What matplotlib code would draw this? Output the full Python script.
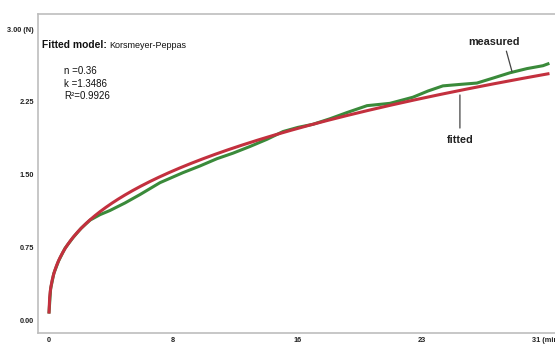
import numpy as np
import matplotlib.pyplot as plt

# Korsmeyer-Peppas fit parameters
n_exp = 0.36
k_const = 1.3486
r_sq = 0.9926
t_unit = 5.37  # time scale of the fit (min)

# measured force (N) against time (min)
t_meas = [0.00227, 0.1, 0.3, 0.6, 1.0, 1.5, 2.0, 2.56, 3.18, 3.80, 4.74, 5.67,
          6.92, 8.35, 9.41, 10.47, 11.47, 12.53, 13.59, 14.59, 15.52, 16.46,
          17.52, 18.58, 19.83, 21.26, 22.69, 23.63, 24.56, 25.62, 26.68, 27.74,
          28.74, 29.80, 30.80, 31.11]
f_meas = [0.082, 0.32, 0.48, 0.61, 0.74, 0.85, 0.945, 1.03, 1.086, 1.129, 1.207,
          1.293, 1.416, 1.519, 1.588, 1.663, 1.720, 1.789, 1.863, 1.943, 1.986,
          2.018, 2.075, 2.139, 2.210, 2.234, 2.297, 2.361, 2.414, 2.429, 2.443,
          2.497, 2.549, 2.592, 2.622, 2.641]

x_ticks = [0, 7.75, 15.5, 23.25, 31]
x_labels = ['0', '8', '16', '23', '31 (min)']
y_ticks = [0, 0.75, 1.5, 2.25, 3.0]
y_labels = ['0.00', '0.75', '1.50', '2.25', '3.00 (N)']

t_fit = np.linspace(t_meas[0], t_meas[-1], 800)
f_fit = k_const * (t_fit / t_unit) ** n_exp

fig = plt.figure(figsize=(5.55, 3.47), dpi=100)
ax = fig.add_axes([38 / 555, 14 / 347, 522 / 555, 319 / 347])

ax.plot(t_meas, f_meas, color='#3a8a3a', linewidth=2.2, zorder=2)
ax.plot(t_fit, f_fit, color='#c3303e', linewidth=2.2, zorder=3)

ax.set_xlim(-0.686, 31.86)
ax.set_ylim(-0.134, 3.155)

ax.set_xticks(x_ticks)
ax.set_xticklabels(x_labels)
ax.set_yticks(y_ticks)
ax.set_yticklabels(y_labels)
ax.tick_params(length=0, pad=3, labelsize=5.3, labelcolor='#222222')
for lab in ax.get_xticklabels() + ax.get_yticklabels():
    lab.set_family(['Liberation Sans Narrow', 'Liberation Sans', 'DejaVu Sans'])
    lab.set_fontweight('bold')

ax.spines['right'].set_visible(False)
for s in ['left', 'top', 'bottom']:
    ax.spines[s].set_color('#bdbdbd')
    ax.spines[s].set_linewidth(1.2)

# model box text
t1 = ax.text(0.008, 0.903, 'Fitted model:', transform=ax.transAxes,
             fontsize=7.4, fontweight='bold', family='Liberation Sans',
             va='center', ha='left', color='#111111')
ax.annotate('Korsmeyer-Peppas', xy=(1, 0), xycoords=t1, xytext=(1.5, 0),
            textcoords='offset points', fontsize=6.5,
            family=['Liberation Sans Narrow', 'Liberation Sans'],
            va='bottom', ha='left', color='#111111')

ax.text(0.0498, 0.821, 'n =%.2f' % n_exp, transform=ax.transAxes, fontsize=7,
        family='Liberation Sans', va='center', color='#111111')
ax.text(0.0498, 0.781, 'k =%.4f' % k_const, transform=ax.transAxes, fontsize=7,
        family='Liberation Sans', va='center', color='#111111')
ax.text(0.0498, 0.743, 'R²=%.4f' % r_sq, transform=ax.transAxes, fontsize=7,
        family='Liberation Sans', va='center', color='#111111')

# curve labels
ax.annotate('measured', xy=(28.87, 2.56), xytext=(27.74, 2.866),
            fontsize=7.8, fontweight='bold', family='Liberation Sans',
            ha='center', va='center', color='#222222',
            arrowprops=dict(arrowstyle='-', color='#444444', lw=0.9,
                            relpos=(0.72, 0), shrinkA=1, shrinkB=0))
ax.annotate('fitted', xy=(25.62, 2.32), xytext=(25.62, 1.856),
            fontsize=7.8, fontweight='bold', family='Liberation Sans',
            ha='center', va='center', color='#222222',
            arrowprops=dict(arrowstyle='-', color='#444444', lw=0.9,
                            relpos=(0.5, 1), shrinkA=3, shrinkB=0))

plt.savefig('out.png', dpi=100)
